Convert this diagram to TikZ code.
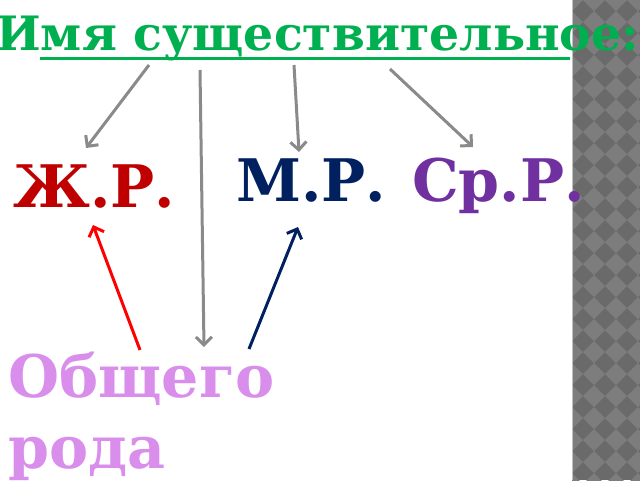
\documentclass[tikz,border=0pt]{standalone}
\usepackage{fontspec}
\setmainfont{DejaVu Serif}
\usetikzlibrary{arrows.meta}
\definecolor{nounG}{HTML}{00B050}
\definecolor{femR}{HTML}{C00000}
\definecolor{masB}{HTML}{002060}
\definecolor{neuP}{HTML}{7030A0}
\definecolor{comP}{HTML}{D98EEB}
\definecolor{arrG}{HTML}{8A8A8A}
\definecolor{stripD}{HTML}{6A6A6A}
\definecolor{stripL}{HTML}{7D7D7D}

\begin{document}
\begin{tikzpicture}[x=0.75pt,y=-0.75pt,word/.style={anchor=base west,inner sep=0pt,font=\fontsize{44}{48}\selectfont\bfseries},heading/.style={word,font=\fontsize{35.5}{38}\selectfont\bfseries,text=nounG},link/.style={line width=2.25pt,-{Straight Barb[length=6pt,width=12pt]}},linkG/.style={link,draw=arrG}]
\useasboundingbox (0,0) rectangle (640,480);

% side strip
\fill[stripD] (572,0) rectangle (640,480);
\begin{scope}
\clip (572,0) rectangle (640,480);
\foreach \i in {0,...,3}
  \foreach \j in {0,...,22}
    \fill[stripL] (561+22*\i,22*\j) -- ++(11,-11) -- ++(11,11) -- ++(-11,11) -- cycle;
\end{scope}
\draw[gray!50,line width=0.75pt] (572,0) -- (572,480);

% title
\node[heading] (noun) at (-4,50) {Имя существительное:};
\draw[nounG,line width=2.25pt] (40,58) -- (570,58);

% genders
\node[word,text=femR] (zr) at (13,207) {Ж.Р.};
\node[word,text=masB] (mr) at (236,201) {М.Р.};
\node[word,text=neuP] (sr) at (412,201) {Ср.Р.};
\node[word,text=comP] (og) at (8,397) {Общего};
\node[word,text=comP] (rod) at (8,468) {рода};

% ends of the arrows
\coordinate (n1) at (149,65);
\coordinate (n2) at (200,70);
\coordinate (n3) at (294,65);
\coordinate (n4) at (390,69);
\coordinate (zrIn) at (86,148);
\coordinate (ogIn) at (204,347);
\coordinate (mrIn) at (299,152);
\coordinate (srIn) at (473,147);
\coordinate (ogR) at (140,350);
\coordinate (ogB) at (249,349);
\coordinate (zrUp) at (93,225);
\coordinate (mrUp) at (298,227);

\draw[linkG] (n1) -- (zrIn);
\draw[linkG] (n2) -- (ogIn);
\draw[linkG] (n3) -- (mrIn);
\draw[linkG] (n4) -- (srIn);
\draw[link,red] (ogR) -- (zrUp);
\draw[link,masB] (ogB) -- (mrUp);
\end{tikzpicture}
\end{document}
